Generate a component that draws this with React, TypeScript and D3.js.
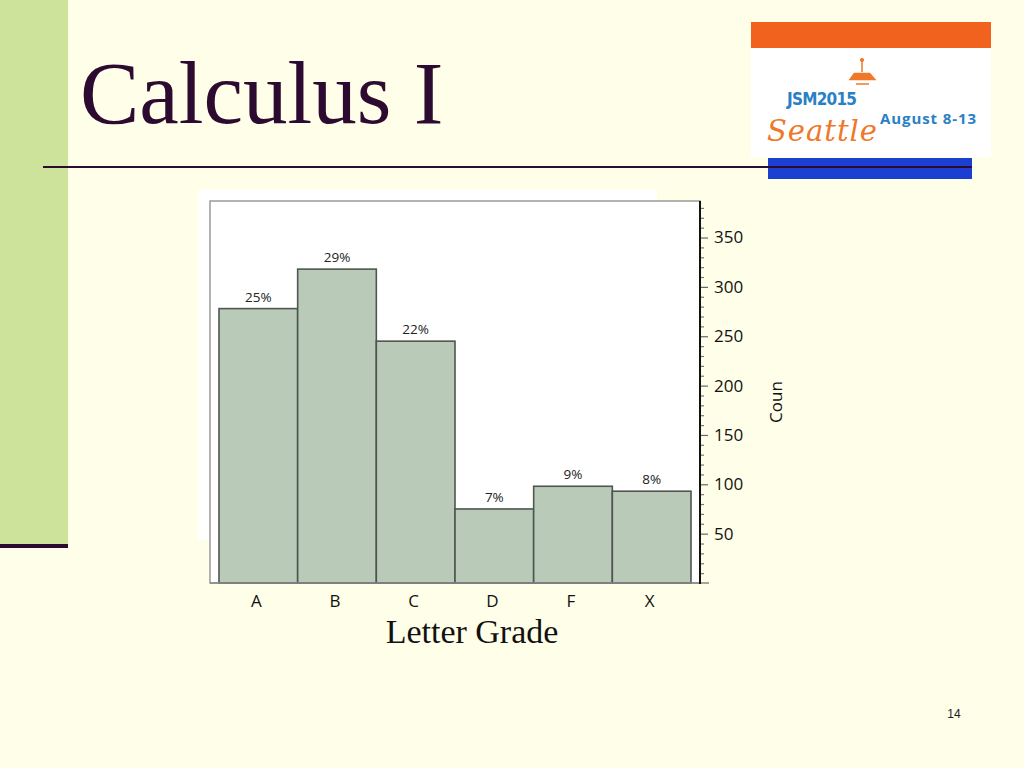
import React, { useEffect, useRef } from "react";
import * as d3 from "d3";

const grades = ["A", "B", "C", "D", "F", "X"];
const counts = [278, 318, 245, 75, 98, 93];
const pctLabels = ["25%", "29%", "22%", "7%", "9%", "8%"];
const majorTicks = [50, 100, 150, 200, 250, 300, 350];

const W = 1024;
const H = 768;

export default function App() {
  const axisRef = useRef<SVGGElement>(null);

  const x = d3.scaleBand<string>().domain(grades).range([219, 691]).padding(0);
  const y = d3.scaleLinear().domain([0, 386]).range([583, 202]);
  const minorTicks = d3.range(10, 390, 10).filter((v) => v % 50 !== 0);

  useEffect(() => {
    if (!axisRef.current) return;
    const g = d3.select(axisRef.current);
    g.selectAll("*").remove();
    const minorAxis = d3
      .axisRight(y)
      .tickValues(minorTicks)
      .tickSize(4)
      .tickFormat(() => "");
    const gm = g.append("g").call(minorAxis);
    gm.select(".domain").remove();
    gm.selectAll("line").attr("stroke", "#777").attr("stroke-width", 1.2);
    const majorAxis = d3
      .axisRight(y)
      .tickValues(majorTicks)
      .tickSize(8)
      .tickPadding(6)
      .tickFormat((d) => String(d));
    const ga = g.append("g").call(majorAxis);
    ga.select(".domain").remove();
    ga.selectAll("line").attr("stroke", "#666").attr("stroke-width", 1.2);
    ga.selectAll("text")
      .attr("font-family", "'Open Sans', 'DejaVu Sans', sans-serif")
      .attr("font-size", 17)
      .attr("fill", "#111");
  }, []);

  return (
    <svg
      width={W}
      height={H}
      style={{ position: "absolute", left: 0, top: 0 }}
      xmlns="http://www.w3.org/2000/svg"
    >
      <rect x={0} y={0} width={W} height={H} fill="#fffee8" />
      {/* left green band */}
      <rect x={0} y={0} width={68} height={548} fill="#cde39b" />
      <rect x={0} y={544} width={68} height={4} fill="#2a0a30" />

      {/* title */}
      <text
        x={80}
        y={123}
        fontFamily="'Liberation Serif', 'Times New Roman', serif"
        fontSize={89}
        fill="#2d0b30"
      >
        Calculus I
      </text>

      {/* logo */}
      <rect x={751} y={22} width={240} height={135} fill="#ffffff" />
      <rect x={751} y={22} width={240} height={26} fill="#f0621e" />
      <rect x={768} y={158} width={204} height={21} fill="#1b3fd1" />
      {/* space needle */}
      <g stroke="#f0782a" fill="#f0782a">
        <line x1={862} y1={58} x2={862} y2={72} strokeWidth={1.5} />
        <circle cx={862} cy={60} r={1.6} />
        <path d="M849,80 L854,73 L870,73 L876,80 Z" strokeWidth={0.5} />
        <line x1={856} y1={84} x2={869} y2={84} strokeWidth={1.5} />
      </g>
      <text
        x={787}
        y={105}
        fontFamily="'Liberation Sans Narrow', 'DejaVu Sans Condensed', sans-serif"
        fontWeight="bold"
        fontSize={17}
        fill="#2a80c4"
        textLength={70}
      >
        JSM2015
      </text>
      <text
        x={767}
        y={141}
        fontFamily="'DejaVu Serif', serif"
        fontStyle="italic"
        fontSize={29}
        fill="#f0782a"
        textLength={110}
      >
        Seattle
      </text>
      <text
        x={880}
        y={124}
        fontFamily="'Open Sans', 'DejaVu Sans', sans-serif"
        fontWeight="bold"
        fontSize={15}
        fill="#2a80c4"
        textLength={96}
      >
        August 8-13
      </text>

      {/* rule under title */}
      <line x1={43} y1={167} x2={972} y2={167} stroke="#2d0b30" strokeWidth={2} />

      {/* chart background */}
      <rect x={198} y={190} width={459} height={350} fill="#ffffff" />
      <rect x={210} y={201} width={490} height={382} fill="#ffffff" stroke="#9a9a9a" strokeWidth={1.5} />

      {/* bars */}
      {grades.map((g, i) => (
        <rect
          key={g}
          x={x(g)}
          y={y(counts[i])}
          width={x.bandwidth()}
          height={y(0) - y(counts[i])}
          fill="#b9cab9"
          stroke="#4f564f"
          strokeWidth={1.6}
        />
      ))}
      {grades.map((g, i) => (
        <text
          key={g + "l"}
          x={(x(g) as number) + x.bandwidth() / 2}
          y={y(counts[i]) - 7}
          textAnchor="middle"
          fontFamily="'Open Sans', 'DejaVu Sans', sans-serif"
          fontSize={13.5}
          fill="#222"
        >
          {pctLabels[i]}
        </text>
      ))}

      {/* bottom line and right axis */}
      <line x1={210} y1={583} x2={709} y2={583} stroke="#888" strokeWidth={1.5} />
      <g ref={axisRef} transform="translate(700,0)" />
      <line x1={700} y1={201} x2={700} y2={584} stroke="#111" strokeWidth={2} />

      {/* category labels */}
      {grades.map((g) => (
        <text
          key={g + "c"}
          x={(x(g) as number) + x.bandwidth() / 2 - 2}
          y={607}
          textAnchor="middle"
          fontFamily="'Open Sans', 'DejaVu Sans', sans-serif"
          fontSize={17}
          fill="#111"
        >
          {g}
        </text>
      ))}

      <text
        x={472}
        y={643}
        textAnchor="middle"
        fontFamily="'Liberation Serif', 'Times New Roman', serif"
        fontSize={34}
        fill="#111"
      >
        Letter Grade
      </text>

      <text
        transform="translate(782,402) rotate(-90)"
        textAnchor="middle"
        fontFamily="'Open Sans', 'DejaVu Sans', sans-serif"
        fontSize={17}
        fill="#111"
      >
        Coun
      </text>

      <text
        x={954}
        y={718}
        textAnchor="middle"
        fontFamily="'Liberation Sans', Arial, sans-serif"
        fontSize={12}
        fill="#222"
      >
        14
      </text>
    </svg>
  );
}
